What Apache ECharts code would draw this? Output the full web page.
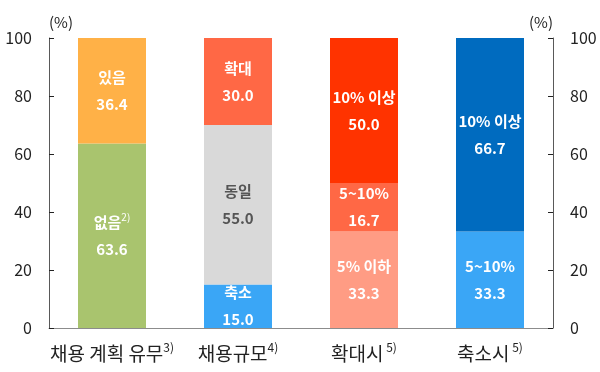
<!DOCTYPE html>
<html>
<head>
<meta charset="utf-8">
<script src="https://cdn.jsdelivr.net/npm/echarts@6/dist/echarts.min.js"></script>
<style>html,body{margin:0;padding:0;background:#fff}#c{width:600px;height:372px}</style>
</head>
<body>
<div id="c"></div>
<script>
const categories = ['채용 계획 유무', '채용규모', '확대시', '축소시'];
const categorySup = ['3)', '4)', ' 5)', ' 5)'];
const yTicks = [0, 20, 40, 60, 80, 100];

// stack levels, bottom to top
const level1Values = [63.6, 15.0, 33.3, 33.3];
const level1Names = ['없음', '축소', '5% 이하', '5~10%'];
const level1Sup = ['2)', '', '', ''];
const level1Colors = ['#a9c46e', '#3aa6f6', '#ff9c84', '#3aa6f6'];

const level2Values = [36.4, 55.0, 16.7, 66.7];
const level2Names = ['있음', '동일', '5~10%', '10% 이상'];
const level2Sup = ['', '', '', ''];
const level2Colors = ['#ffb147', '#d9d9d9', '#ff6845', '#006bbf'];

const level3Values = [null, 30.0, 50.0, null];
const level3Names = ['', '확대', '10% 이상', ''];
const level3Sup = ['', '', '', ''];
const level3Colors = ['#ffffff', '#ff6845', '#ff3300', '#ffffff'];

const FONT = '"Noto Sans CJK KR", "Noto Sans", sans-serif';

function makeSeries(values, names, sups, colors) {
  return {
    type: 'bar',
    stack: 'all',
    barWidth: 68,
    data: values.map((v, i) => ({
      value: v,
      itemStyle: { color: colors[i] },
      label: { color: colors[i] === '#d9d9d9' ? '#555555' : '#ffffff' }
    })),
    label: {
      show: true,
      position: 'inside',
      fontFamily: FONT,
      fontSize: 15,
      fontWeight: 'bold',
      lineHeight: 27,
      formatter: p => {
        const i = p.dataIndex;
        const sup = sups[i] ? '{s|' + sups[i] + '}' : '';
        return '{n|' + names[i] + '}' + sup + '\n{n|' + p.value.toFixed(1) + '}';
      },
      rich: {
        n: { fontFamily: FONT, fontSize: 15, fontWeight: 'bold', lineHeight: 27 },
        s: { fontFamily: FONT, fontSize: 10, fontWeight: 'normal', lineHeight: 27, padding: [0, 0, 10, 0] }
      }
    }
  };
}

const yAxisCommon = {
  type: 'value',
  min: 0,
  max: 100,
  interval: 20,
  axisLine: { show: true, lineStyle: { color: '#595959', width: 1 } },
  axisTick: { show: true, inside: true, length: 5, lineStyle: { color: '#222' } },
  splitLine: { show: false },
  axisLabel: { color: '#222', fontSize: 16, fontFamily: FONT, margin: 17,
    formatter: v => yTicks.includes(v) ? String(v) : '' },
  name: '(%)',
  nameGap: 8,
  nameTextStyle: { color: '#222', fontSize: 15, fontFamily: FONT }
};

const chart = echarts.init(document.getElementById('c'));
chart.setOption({
  animation: false,
  grid: { left: 49, right: 47, top: 38, bottom: 44 },
  xAxis: {
    type: 'category',
    data: categories,
    axisLine: { show: true, lineStyle: { color: '#8c8c8c' } },
    axisTick: { show: false },
    axisLabel: {
      interval: 0,
      margin: 14,
      formatter: (v, i) => '{a|' + v + '}{s|' + categorySup[i] + '}',
      rich: {
        a: { fontFamily: FONT, fontSize: 19, color: '#222', lineHeight: 24 },
        s: { fontFamily: FONT, fontSize: 12, color: '#222', lineHeight: 24, padding: [0, 0, 14, 0] }
      }
    }
  },
  yAxis: [
    Object.assign({}, yAxisCommon, { position: 'left',
      nameTextStyle: Object.assign({}, yAxisCommon.nameTextStyle, { align: 'left' }) }),
    Object.assign({}, yAxisCommon, { position: 'right',
      nameTextStyle: Object.assign({}, yAxisCommon.nameTextStyle, { align: 'right' }) })
  ],
  series: [
    makeSeries(level1Values, level1Names, level1Sup, level1Colors),
    makeSeries(level2Values, level2Names, level2Sup, level2Colors),
    makeSeries(level3Values, level3Names, level3Sup, level3Colors)
  ]
});
</script>
</body>
</html>
